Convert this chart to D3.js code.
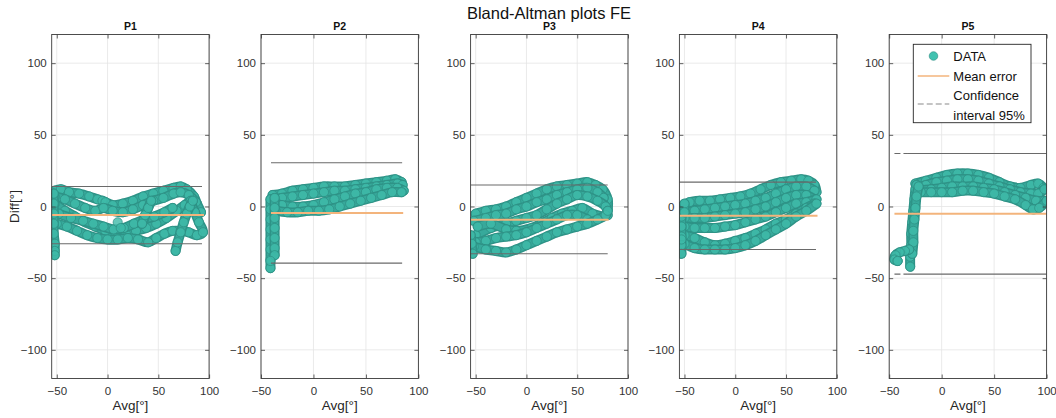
<!DOCTYPE html>
<html><head><meta charset="utf-8">
<script src="https://cdn.jsdelivr.net/npm/d3@7"></script>
<style>
html,body{margin:0;padding:0;background:#fff;}
svg{display:block;font-family:"Liberation Sans",Arial,Helvetica,sans-serif;}
</style></head>
<body><svg id="c" width="1056" height="418"></svg>
<script>
// ---------------- data ----------------
const panelNames = ["P1","P2","P3","P4","P5"];
const xMin = [-55,-50,-55,-55,-50];
const xMax = [100,100,100,100,100];
const xTicks = [-50,0,50,100];
const yTicks = [-100,-50,0,50,100];
const meanError = [-6,-4.5,-9.2,-6.5,-5];
const ciUpper = [14,30.5,15,17,37];
const ciLower = [-26,-39.5,-33,-30,-47.2];
const lineStart = [-55,-40.5,-55,-55,-45];
const lineEnd = [93,84.5,80,79.5,100];
const meanEnd = [95,85.5,81,81,100];
const solidStart = [-55,-40.5,-55,-55,-33];

const p1Strands = [
  [[-52,11],[-46,12],[-38,10],[-28,9],[-18,7],[-10,5],[-5,4],[-2,3],[5,1],[15,2],[25,4],[35,7],[45,9],[55,11],[65,13],[72,14],[78,12],[85,7],[88,2]],
  [[-52,7],[-42,5],[-32,2],[-22,-1],[-12,-3],[-4,-1],[5,-3],[15,-4],[25,-2],[35,1],[45,4],[55,6],[65,9],[72,10],[80,8],[87,3],[92,-4]],
  [[-52,2],[-42,-3],[-32,-7],[-22,-11],[-12,-14],[-2,-17],[8,-19],[18,-19],[28,-17],[38,-15],[48,-12],[58,-8],[68,-3],[76,1],[82,4]],
  [[-50,-12],[-40,-14],[-30,-17],[-20,-20],[-10,-22],[0,-23],[10,-23],[20,-22],[30,-23],[40,-25],[48,-22],[56,-19],[64,-17],[72,-17],[80,-18],[88,-20],[94,-18],[90,-11],[86,-4],[83,1]],
  [[-48,-5],[-36,-8],[-24,-10],[-14,-12],[-4,-14],[6,-16],[16,-15],[26,-12],[36,-9],[46,-7],[56,-4],[64,-1]],
  [[67,-31],[69,-25],[72,-18],[75,-11],[78,-5],[81,0],[84,4]],
  [[-53,9],[-53,2],[-53,-5],[-53,-12],[-53,-19],[-52,-26],[-52,-31],[-52,-34]],
  [[34,-12],[37,-6],[40,-1],[43,4]],
  [[10,-11]],[[13,-15]]
];
const p2Strands = [
  [[-39,8],[-30,9],[-20,11],[-10,12],[0,13],[10,14],[20,14],[30,14],[40,15],[50,16],[60,17],[70,18],[78,19],[84,17]],
  [[-38,5],[-30,6],[-20,7],[-10,8],[0,9],[10,10],[20,11],[30,11],[40,12],[50,13],[60,14],[70,15],[80,16],[85,15]],
  [[-38,2],[-30,1],[-20,0],[-10,0],[0,1],[10,3],[20,5],[30,7],[40,9],[50,10],[60,12],[70,13],[80,13],[86,11]],
  [[-36,-3],[-25,-4],[-15,-4],[-5,-3],[5,-3],[15,-2],[25,0],[35,2],[45,4],[55,6],[65,8],[75,10],[84,10]],
  [[-41,5],[-41,-2],[-41,-9],[-41,-16],[-41,-23],[-41,-30],[-41,-37],[-41,-43]],
  [[-37,6],[-37,-1],[-37,-8],[-37,-15],[-37,-22],[-37,-29],[-37,-34]],
  [[-41,-38]]
];
const p3Strands = [
  [[-50,-5],[-40,-3],[-30,-2],[-20,0],[-10,3],[0,6],[10,9],[20,12],[30,14],[40,15],[50,16],[60,17],[68,15],[75,12],[80,5],[80,-2]],
  [[-52,-10],[-40,-8],[-30,-6],[-20,-5],[-10,-2],[0,0],[10,3],[20,5],[30,8],[40,10],[50,12],[60,13],[70,10],[76,6]],
  [[-50,-20],[-35,-15],[-20,-12],[-10,-10],[0,-8],[10,-6],[20,-2],[30,2],[40,5],[50,8],[60,7],[70,4],[78,0],[80,-6]],
  [[-48,-14],[-35,-12],[-20,-16],[-10,-17],[5,-15],[15,-12],[25,-8],[35,-5],[45,-3],[55,-1],[65,-5],[75,-7]],
  [[-50,-25],[-40,-24],[-30,-22],[-20,-21],[-10,-20],[0,-18],[10,-15],[20,-12],[30,-9],[40,-6],[50,-6],[60,-9]],
  [[-52,-28],[-40,-30],[-30,-31],[-20,-32],[-10,-30],[0,-27],[10,-24],[20,-21],[30,-18],[40,-16],[50,-14],[60,-12],[70,-9],[78,-6],[80,-3]],
  [[-55,-20],[-54,-26],[-53,-33]]
];
const p4Strands = [
  [[-50,1],[-45,3],[-35,4],[-25,4],[-15,5],[-5,6],[5,7],[15,9],[25,12],[35,15],[45,17],[55,18],[65,19],[72,18],[78,15],[80,10]],
  [[-50,-4],[-40,-3],[-30,-2],[-20,-1],[-10,0],[0,1],[10,2],[20,4],[30,6],[40,9],[50,12],[60,14],[70,14],[78,11]],
  [[-50,-8],[-40,-8],[-30,-8],[-20,-7],[-10,-6],[0,-5],[10,-4],[20,-2],[30,0],[40,3],[50,6],[60,8],[70,8],[78,5]],
  [[-50,-14],[-40,-15],[-30,-15],[-20,-15],[-10,-14],[0,-13],[10,-11],[20,-9],[30,-7],[40,-4],[50,-1],[60,2],[70,3],[80,5]],
  [[-50,-20],[-40,-22],[-30,-25],[-20,-27],[-10,-26],[0,-24],[10,-22],[20,-19],[30,-16],[40,-12],[50,-9],[60,-5],[70,-1],[78,2]],
  [[-50,-26],[-40,-29],[-30,-30],[-20,-30],[-10,-30],[0,-29],[10,-27],[20,-24],[30,-20],[40,-16],[50,-12],[60,-7],[70,-3],[80,2]],
  [[-53,0],[-53,-7],[-53,-14],[-53,-21],[-53,-27],[-53,-33]],
  [[-50,2],[-50,-4]],
  [[-53,-23]]
];
const p5Strands = [
  [[-25,16],[-15,18],[-5,20],[5,22],[15,23],[25,23],[35,22],[45,20],[55,17],[65,14],[75,13],[85,15],[92,16],[97,13]],
  [[-24,13],[-15,15],[-5,17],[5,18],[15,19],[25,19],[35,18],[45,16],[55,14],[65,12],[75,10],[85,9],[92,9],[98,12]],
  [[-22,11],[-10,12],[0,13],[10,14],[20,14],[30,14],[40,13],[50,12],[60,10],[70,8],[80,6],[90,4],[98,4]],
  [[-20,10],[-10,10],[0,10],[10,10],[20,11],[30,11],[40,10],[50,9],[60,7],[70,5],[80,1],[87,-2],[93,-1],[100,4]],
  [[-30,-42],[-30,-35],[-29,-27],[-29,-19],[-28,-11],[-27,-3],[-26,5],[-25,12],[-24,15]],
  [[-28,-33],[-27,-25],[-27,-17],[-26,-9],[-25,-1],[-24,7],[-22,14]],
  [[-31,-30],[-35,-31],[-40,-32],[-44,-34],[-45,-37],[-42,-38]],
  [[-42,-38]]
];
const strandsByPanel = [p1Strands,p2Strands,p3Strands,p4Strands,p5Strands];
const legendLabels = ["DATA","Mean error","Confidence","interval 95%"];
const titleText = "Bland-Altman plots FE";
const xLabel = "Avg[°]";
const yLabel = "Diff[°]";

// ---------------- drawing ----------------
const svg = d3.select("#c");
const lefts = [51.7, 261, 470.6, 679.4, 889.2];
const pw = 157.4, plotTop = 34.5, plotBottom = 378.5;
const teal = "#3fbaa9", tealEdge = "#2c8c81", bandOuter = "#2e9387", bandInner = "#37a99b";
const meanColor = "#f3b47c", ciColor = "#6a6a6a";

svg.append("text").attr("x",549).attr("y",18.5).attr("text-anchor","middle")
  .attr("font-size",16.5).attr("fill","#111").text(titleText);

svg.append("text").attr("transform","translate(19,206.5) rotate(-90)")
  .attr("text-anchor","middle").attr("font-size",13.5).attr("fill","#262626").text(yLabel);

panelNames.forEach((name,i)=>{
  const x = d3.scaleLinear().domain([xMin[i],xMax[i]]).range([lefts[i],lefts[i]+pw]);
  const y = d3.scaleLinear().domain([-120,120]).range([plotBottom,plotTop]);
  const g = svg.append("g");
  const clipId = "clip"+i;
  svg.append("clipPath").attr("id",clipId).append("rect")
    .attr("x",lefts[i]).attr("y",plotTop).attr("width",pw).attr("height",plotBottom-plotTop);

  // grid
  const xt = xTicks.filter(t=>t>=xMin[i]&&t<=xMax[i]);
  g.selectAll(".gx").data(xt).join("line")
    .attr("x1",d=>x(d)).attr("x2",d=>x(d)).attr("y1",plotTop).attr("y2",plotBottom)
    .attr("stroke","#e4e4e4").attr("stroke-width",0.8);
  g.selectAll(".gy").data(yTicks).join("line")
    .attr("y1",d=>y(d)).attr("y2",d=>y(d)).attr("x1",lefts[i]).attr("x2",lefts[i]+pw)
    .attr("stroke","#e4e4e4").attr("stroke-width",0.8);

  const dg = g.append("g").attr("clip-path",`url(#${clipId})`);

  const line = d3.line().x(d=>x(d[0])).y(d=>y(d[1])).curve(d3.curveCatmullRom.alpha(0.5));
  const strands = strandsByPanel[i];
  strands.forEach(s=>{
    if (s.length>1){
      dg.append("path").attr("d",line(s)).attr("fill","none").attr("stroke",bandOuter)
        .attr("stroke-width",10).attr("stroke-linecap","round").attr("stroke-linejoin","round");
      dg.append("path").attr("d",line(s)).attr("fill","none").attr("stroke",bandInner)
        .attr("stroke-width",7).attr("stroke-linecap","round").attr("stroke-linejoin","round");
    }
    dg.selectAll(null).data(s).join("circle")
      .attr("cx",d=>x(d[0])).attr("cy",d=>y(d[1])).attr("r",4.6)
      .attr("fill",teal).attr("fill-opacity",0.8).attr("stroke",tealEdge).attr("stroke-width",0.7);
  });

  // CI lines: dashed only where few passes overlap (left end), solid elsewhere
  [ciUpper[i],ciLower[i]].forEach(v=>{
    if (solidStart[i] > lineStart[i]) {
      dg.append("line").attr("x1",x(lineStart[i])).attr("x2",x(solidStart[i]))
        .attr("y1",y(v)).attr("y2",y(v)).attr("stroke",ciColor).attr("stroke-width",1.1)
        .attr("stroke-dasharray","6,3");
    }
    dg.append("line").attr("x1",x(solidStart[i])).attr("x2",x(lineEnd[i]))
      .attr("y1",y(v)).attr("y2",y(v)).attr("stroke",ciColor).attr("stroke-width",1.1);
  });

  // mean line
  dg.append("line").attr("x1",x(lineStart[i])).attr("x2",x(meanEnd[i]))
    .attr("y1",y(meanError[i])).attr("y2",y(meanError[i]))
    .attr("stroke",meanColor).attr("stroke-width",2);

  // axes
  const axL = d3.axisLeft(y).tickValues(yTicks).tickSizeInner(-4).tickSizeOuter(0).tickPadding(5);
  const axB = d3.axisBottom(x).tickValues(xt).tickSizeInner(-4).tickSizeOuter(0).tickPadding(8)
    .tickFormat(d3.format("d"));
  const axR = d3.axisRight(y).tickValues(yTicks).tickSizeInner(-4).tickSizeOuter(0).tickFormat("");
  const axT = d3.axisTop(x).tickValues(xt).tickSizeInner(-4).tickSizeOuter(0).tickFormat("");
  const style = sel=>{
    sel.select(".domain").remove();
    sel.selectAll("line").attr("stroke","#3a3a3a").attr("stroke-width",0.8);
    sel.selectAll("text").attr("fill","#333").attr("font-size",11.5)
      .attr("font-family","Liberation Sans,Arial,sans-serif");
  };
  g.append("g").attr("transform",`translate(${lefts[i]},0)`).call(axL).call(style);
  g.append("g").attr("transform",`translate(0,${plotBottom})`).call(axB).call(style);
  g.append("g").attr("transform",`translate(${lefts[i]+pw},0)`).call(axR).call(style);
  g.append("g").attr("transform",`translate(0,${plotTop})`).call(axT).call(style);
  g.append("rect").attr("x",lefts[i]).attr("y",plotTop).attr("width",pw).attr("height",plotBottom-plotTop)
    .attr("fill","none").attr("stroke","#3a3a3a").attr("stroke-width",0.9);

  g.append("text").attr("x",lefts[i]+pw/2).attr("y",29.5).attr("text-anchor","middle")
    .attr("font-size",10.5).attr("font-weight","bold").attr("fill","#111").text(name);
  g.append("text").attr("x",lefts[i]+pw/2).attr("y",409.5).attr("text-anchor","middle")
    .attr("font-size",13.5).attr("fill","#262626").text(xLabel);
});

// legend in P5
const lg = svg.append("g");
lg.append("rect").attr("x",913.3).attr("y",44.3).attr("width",117.7).attr("height",78.4)
  .attr("fill","#fff").attr("stroke","#262626").attr("stroke-width",0.9);
lg.append("circle").attr("cx",933.5).attr("cy",56).attr("r",4.3)
  .attr("fill","#41c2b0").attr("stroke",tealEdge).attr("stroke-width",0.6);
lg.append("line").attr("x1",917.7).attr("x2",949.3).attr("y1",76).attr("y2",76)
  .attr("stroke",meanColor).attr("stroke-width",1.6);
lg.append("line").attr("x1",917.7).attr("x2",949.3).attr("y1",104).attr("y2",104)
  .attr("stroke","#8a8a8a").attr("stroke-width",1.2).attr("stroke-dasharray","6,3");
const ly = [60.5,80.5,100,119.5];
legendLabels.forEach((t,k)=>{
  lg.append("text").attr("x",953.3).attr("y",ly[k]).attr("font-size",13)
    .attr("fill","#111").text(t);
});
</script></body></html>
